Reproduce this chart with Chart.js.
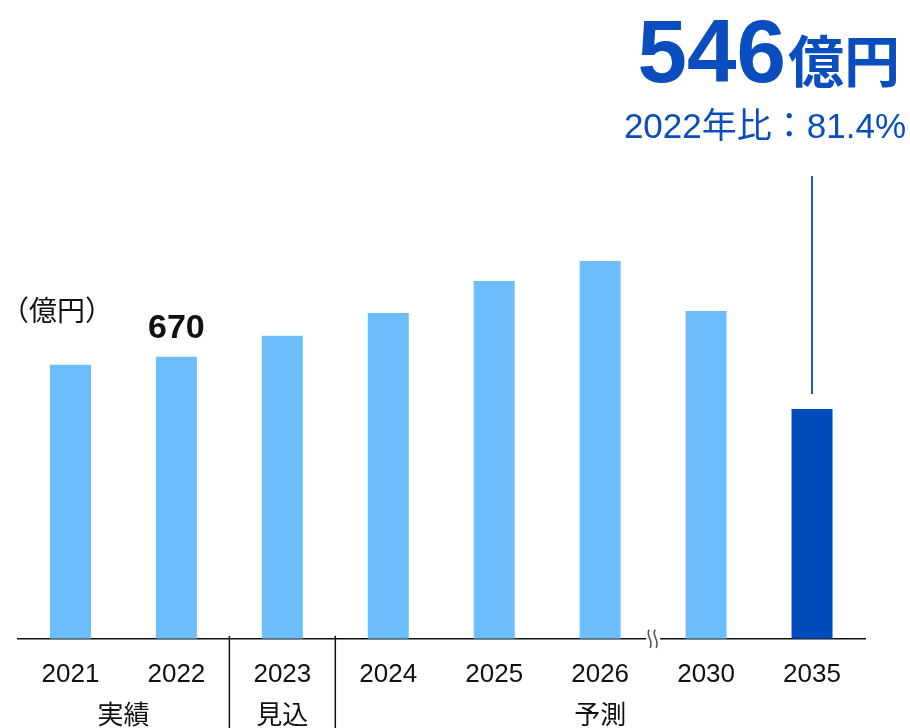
<!DOCTYPE html>
<html lang="ja">
<head>
<meta charset="utf-8">
<script src="https://cdn.jsdelivr.net/npm/chart.js@4.4.1/dist/chart.umd.min.js"></script>
<style>
  html, body { margin: 0; padding: 0; background: #fff; }
  #wrap { width: 910px; height: 728px; position: relative; }
</style>
</head>
<body>
<div id="wrap"><canvas id="marketChart"></canvas></div>
<script>
// market size by year (億円)
const years = ['2021', '2022', '2023', '2024', '2025', '2026', '2030', '2035'];
const values = [651, 670, 720, 774, 850, 898, 779, 546];

// phase groups under the axis: name, first index, last index
const phaseNames = ['実績', '見込', '予測'];
const phaseFrom = [0, 2, 3];
const phaseTo = [1, 2, 7];

const unitLabel = '（億円）';
const labelIndex = 1;       // 2022 gets its value printed
const highlightIndex = 7;   // 2035 is the headline bar
const breakAfter = 5;       // axis break between 2026 and 2030
const headlineUnit = '億円';
const headlineNote = '2022年比：81.4%';

const LIGHT = '#6dbeff';
const DARK = '#004bbb';
const BLUE_TEXT = '#0a4dbf';
const FONT = '"Liberation Sans", Arial, "Noto Sans CJK JP", sans-serif';
const JP_FONT = '"Noto Sans CJK JP", "Liberation Sans", sans-serif';

const ctxEl = document.getElementById('marketChart');

// extra drawing: phase groups, axis break, value callouts
const annotations = {
    id: 'annotations',
    afterDraw(chart) {
        const ctx = chart.ctx;
        const xs = chart.scales.x;
        const area = chart.chartArea;
        const meta = chart.getDatasetMeta(0);
        const px = i => xs.getPixelForValue(i);

        ctx.save();

        // separators between the phase groups
        ctx.strokeStyle = '#111';
        ctx.lineWidth = 1.5;
        for (let g = 0; g < phaseNames.length - 1; g++) {
            const x = (px(phaseTo[g]) + px(phaseFrom[g + 1])) / 2;
            ctx.beginPath();
            ctx.moveTo(x, area.bottom - 3);
            ctx.lineTo(x, chart.height);
            ctx.stroke();
        }

        // phase names
        ctx.fillStyle = '#111';
        ctx.font = '26px ' + JP_FONT;
        ctx.textAlign = 'center';
        ctx.textBaseline = 'middle';
        for (let g = 0; g < phaseNames.length; g++) {
            const cx = (px(phaseFrom[g]) + px(phaseTo[g])) / 2;
            ctx.fillText(phaseNames[g], cx, 714);
        }

        // axis break mark
        const bx = (px(breakAfter) + px(breakAfter + 1)) / 2;
        const by = area.bottom;
        ctx.fillStyle = '#fff';
        ctx.fillRect(bx - 7, by - 3, 14, 6);
        ctx.strokeStyle = '#555';
        ctx.lineWidth = 1.6;
        [-3, 3].forEach(off => {
            ctx.beginPath();
            ctx.moveTo(bx + off - 1, by - 9);
            ctx.bezierCurveTo(bx + off - 5, by - 3, bx + off + 4, by + 1, bx + off, by + 9);
            ctx.stroke();
        });

        // unit label
        ctx.fillStyle = '#111';
        ctx.font = '28px ' + JP_FONT;
        ctx.textAlign = 'left';
        ctx.textBaseline = 'middle';
        ctx.fillText(unitLabel, 1, 310);

        // printed value above 2022
        const lb = meta.data[labelIndex];
        ctx.font = 'bold 34px ' + FONT;
        ctx.textAlign = 'center';
        ctx.textBaseline = 'alphabetic';
        ctx.fillText(String(values[labelIndex]), lb.x, lb.y - 19);

        // headline for 2035: leader line + big figure
        const hb = meta.data[highlightIndex];
        ctx.strokeStyle = '#1f57c4';
        ctx.lineWidth = 2;
        ctx.beginPath();
        ctx.moveTo(hb.x, 176);
        ctx.lineTo(hb.x, hb.y - 15);
        ctx.stroke();

        ctx.fillStyle = BLUE_TEXT;
        ctx.textAlign = 'right';
        ctx.font = 'bold 56px ' + JP_FONT;
        const unitW = ctx.measureText(headlineUnit).width;
        ctx.fillText(headlineUnit, 900, 82);
        ctx.font = 'bold 89px ' + FONT;
        ctx.fillText(String(values[highlightIndex]), 900 - unitW - 2, 82);

        ctx.font = '35px ' + FONT;
        ctx.textBaseline = 'middle';
        ctx.fillText(headlineNote, 906, 128);

        ctx.restore();
    }
};

const chart = new Chart(ctxEl, {
    type: 'bar',
    data: {
        labels: years,
        datasets: [{
            data: values,
            backgroundColor: values.map((v, i) => i === highlightIndex ? DARK : LIGHT),
            borderWidth: 0,
            barPercentage: 0.387,
            categoryPercentage: 1
        }]
    },
    options: {
        responsive: true,
        maintainAspectRatio: false,
        animation: false,
        layout: {
            padding: { left: 17.5, right: 45, top: 218, bottom: 18 }
        },
        plugins: {
            legend: { display: false },
            tooltip: { enabled: false }
        },
        scales: {
            x: {
                grid: { display: false, drawTicks: false },
                border: { display: true, color: '#111', width: 1.5 },
                ticks: {
                    color: '#111',
                    padding: 20,
                    font: { family: FONT, size: 26 }
                }
            },
            y: {
                display: false,
                min: 0,
                max: 1000
            }
        }
    },
    plugins: [annotations]
});
</script>
</body>
</html>
